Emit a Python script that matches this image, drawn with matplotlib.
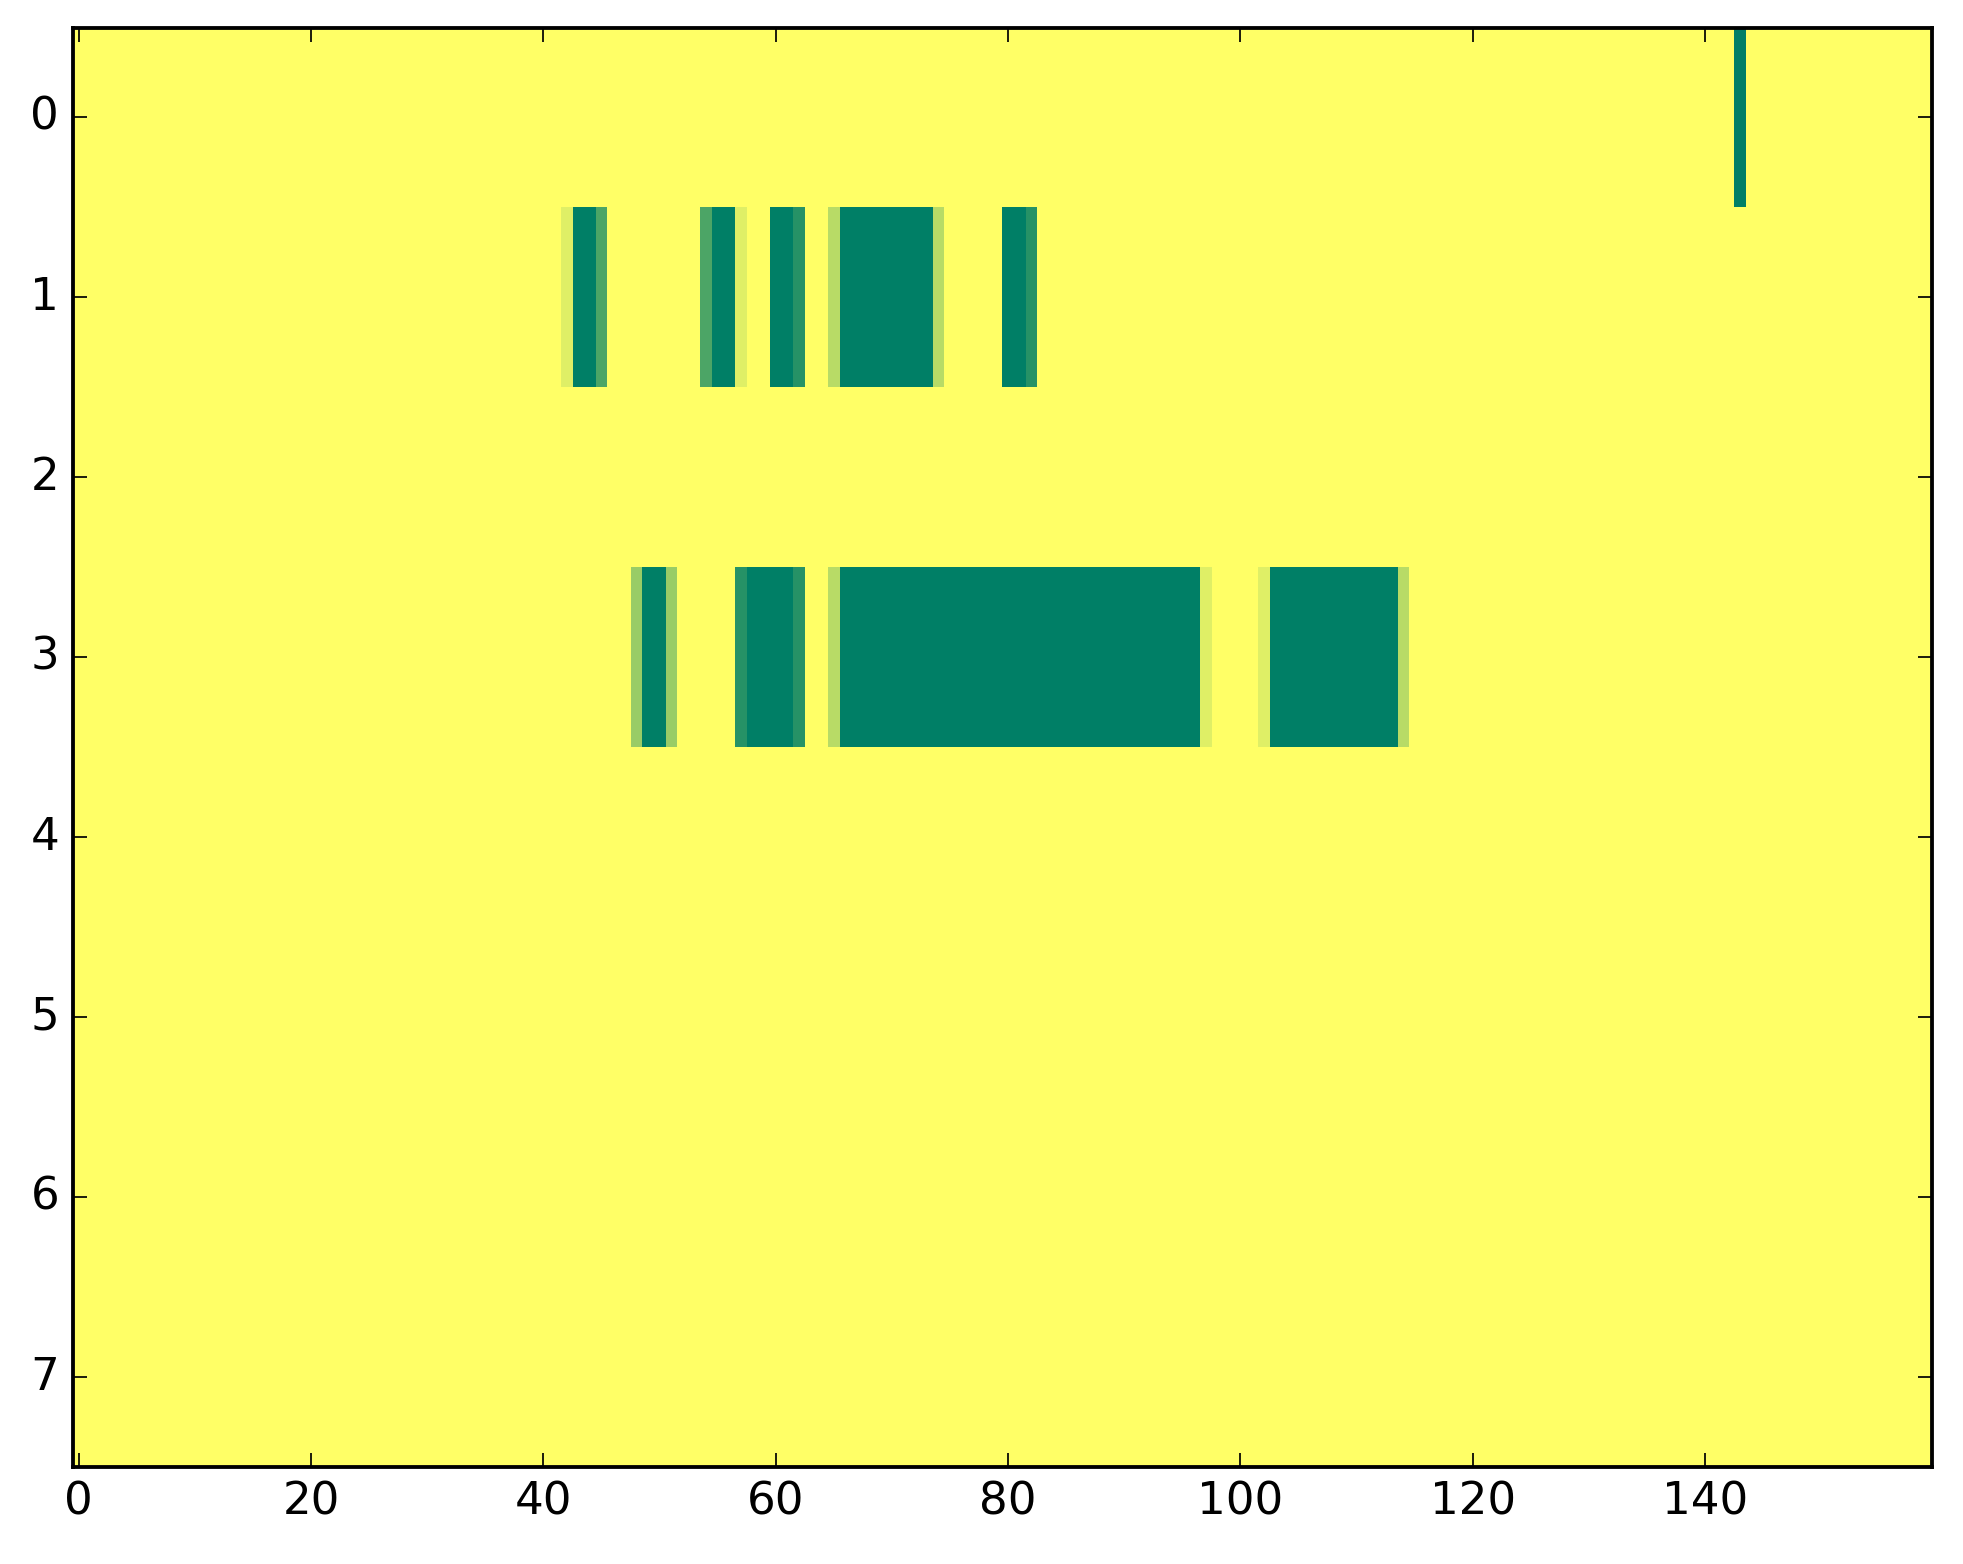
import numpy as np
import matplotlib
matplotlib.use("Agg")
import matplotlib.pyplot as plt

plt.style.use("classic")
plt.rcParams["font.size"] = 13
plt.rcParams["axes.linewidth"] = 1.1

n_rows = 8
n_cols = 160

# Row 0: a single full-intensity cell
row0_start = 143
row0_values = [1.0]

# Row 1 values, starting at column 42
row1_start = 42
row1_values = [0.125, 1.0, 1.0, 0.7,
               0, 0, 0, 0, 0, 0, 0, 0,
               0.7, 1.0, 1.0, 0.125,
               0, 0,
               1.0, 1.0, 0.85,
               0, 0,
               0.28, 1.0, 1.0, 1.0, 1.0, 1.0, 1.0, 1.0, 1.0, 0.28,
               0, 0, 0, 0, 0,
               1.0, 1.0, 0.85]

# Row 3 values, starting at column 48
row3_start = 48
row3_values = [0.4, 1.0, 1.0, 0.4,
               0, 0, 0, 0, 0,
               0.85, 1.0, 1.0, 1.0, 1.0, 0.85,
               0, 0,
               0.28,
               1.0, 1.0, 1.0, 1.0, 1.0, 1.0, 1.0, 1.0, 1.0, 1.0,
               1.0, 1.0, 1.0, 1.0, 1.0, 1.0, 1.0, 1.0, 1.0, 1.0,
               1.0, 1.0, 1.0, 1.0, 1.0, 1.0, 1.0, 1.0, 1.0, 1.0, 1.0,
               0.125,
               0, 0, 0, 0,
               0.125,
               1.0, 1.0, 1.0, 1.0, 1.0, 1.0, 1.0, 1.0, 1.0, 1.0, 1.0,
               0.28]

x_ticks = [0, 20, 40, 60, 80, 100, 120, 140]
y_ticks = [0, 1, 2, 3, 4, 5, 6, 7]

matrix = np.zeros((n_rows, n_cols))
matrix[0, row0_start:row0_start + len(row0_values)] = row0_values
matrix[1, row1_start:row1_start + len(row1_values)] = row1_values
matrix[3, row3_start:row3_start + len(row3_values)] = row3_values

fig = plt.figure(figsize=(1963 / 250, 1564 / 250), dpi=250)
ax = fig.add_axes([0.0372, 0.062, 0.9468, 0.9204])
ax.imshow(matrix, cmap="summer_r", aspect="auto", interpolation="nearest",
          vmin=0, vmax=1)
ax.set_xticks(x_ticks)
ax.set_yticks(y_ticks)
ax.set_xlim(-0.5, n_cols - 0.5)
ax.set_ylim(n_rows - 0.5, -0.5)

fig.savefig("out.png", dpi=250, facecolor="white")
